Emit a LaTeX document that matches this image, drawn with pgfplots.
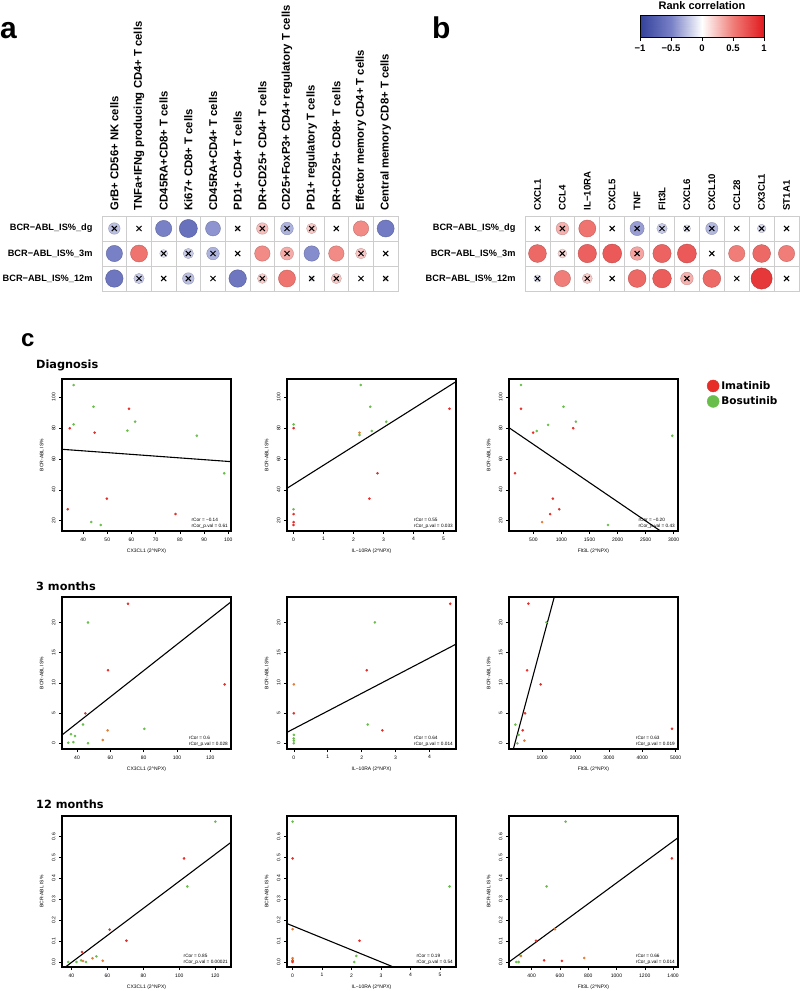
\documentclass[border=0pt]{standalone}
\usepackage{pgfplots}
\usepackage{pgfplotstable}
\pgfplotsset{compat=1.18}
\usepackage{fontspec}
\setmainfont{Liberation Sans}
\newfontfamily\dejavu{DejaVu Sans}
\definecolor{imared}{RGB}{230,45,40}
\definecolor{bosgreen}{RGB}{105,190,75}
\definecolor{oran}{RGB}{225,125,55}
\definecolor{gridgray}{RGB}{205,205,205}
\tikzset{rc/.style={anchor=south east, align=left, inner sep=0.5pt, font=\fontsize{4.7}{5.6}\selectfont}}
\pgfplotsset{
  colormap={corr}{rgb255(0pt)=(50,65,155); rgb255(1pt)=(120,128,198); rgb255(2pt)=(255,255,255); rgb255(3pt)=(240,125,120); rgb255(4pt)=(225,25,30)},
  heat/.style={
    scale only axis, height=75pt, anchor=north west,
    y dir=reverse, ymin=-0.5, ymax=2.5, ytick={0,1,2},
    minor ytick={-0.5,0.5,1.5,2.5},
    yticklabels={BCR−ABL\_IS\%\_dg,BCR−ABL\_IS\%\_3m,BCR−ABL\_IS\%\_12m},
    xticklabel pos=upper,
    major tick length=0pt, minor tick length=0pt,
    grid=minor, minor grid style={draw=gridgray, line width=0.8pt},
    axis line style={draw=gridgray, line width=0.8pt},
    xticklabel style={rotate=90, anchor=west},
    xticklabel shift=2pt,
    yticklabel style={anchor=east, font=\bfseries\fontsize{9.2}{10}\selectfont},
    yticklabel shift=6pt,
    colormap name=corr, point meta min=-1, point meta max=1,
    clip=false,
  },
  heatcirc/.style={scatter, only marks, mark=*, point meta=explicit,
    visualization depends on={\thisrow{r} \as \rr},
    scatter/@pre marker code/.append style={/tikz/mark size={11.5*sqrt(abs(\rr))}}},
  heatx/.style={only marks, mark=x, mark size=3.6pt, black, line width=1pt,
    x filter/.expression={\thisrow{ns}>0 ? x : nan}},
  sc/.style={
    scale only axis, width=169pt, height=152pt, anchor=north west,
    axis line style={line width=1.3pt},
    tick align=outside, xtick pos=left, ytick pos=left,
    major tick length=3pt,
    every tick/.style={black, line width=0.5pt},
    tick label style={font=\fontsize{5}{5}\selectfont},
    /pgf/number format/assume math mode=true,
    /pgf/number format/1000 sep={},
    scaled ticks=false,
    yticklabel style={rotate=90, anchor=south},
    xlabel style={at={(axis description cs:0.5,-0.135)}, anchor=center, font=\fontsize{5}{5}\selectfont},
    ylabel style={at={(axis description cs:-0.12,0.5)}, anchor=center, font=\fontsize{5}{5}\selectfont},
    ylabel={BCR-ABL IS\%},
    clip=true,
  },
  pts/.style={scatter, only marks, mark=*, mark size=1.1pt, scatter src=explicit symbolic,
    scatter/classes={r={imared}, g={bosgreen}, o={oran}}, forget plot},
  reg/.style={black, line width=1.1pt, forget plot},
  dec/.style={yticklabel style={/pgf/number format/fixed, /pgf/number format/fixed zerofill, /pgf/number format/precision=1}},
}

\pgfplotstableread{
c row r ns
0 0 -0.25 1
1 0 0.03 1
2 0 -0.5 0
3 0 -0.62 0
4 0 -0.42 0
5 0 0.04 1
6 0 0.25 1
7 0 -0.3 1
8 0 0.2 1
9 0 0.01 1
10 0 0.45 0
11 0 -0.55 0
0 1 -0.5 0
1 1 0.55 0
2 1 -0.12 1
3 1 -0.2 1
4 1 -0.3 1
5 1 0.01 1
6 1 0.45 0
7 1 0.32 1
8 1 -0.45 0
9 1 0.45 0
10 1 0.22 1
11 1 0.01 1
0 2 -0.58 0
1 2 -0.2 1
2 2 0.01 1
3 2 -0.25 1
4 2 0.01 1
5 2 -0.58 0
6 2 0.18 1
7 2 0.55 0
8 2 -0.05 1
9 2 0.2 1
10 2 0.01 1
11 2 0.04 1
}\heatA

\pgfplotstableread{
c row r ns
0 0 0.02 1
1 0 0.3 1
2 0 0.55 0
3 0 0.01 1
4 0 -0.38 1
5 0 -0.2 1
6 0 -0.1 1
7 0 -0.28 1
8 0 0.01 1
9 0 -0.14 1
10 0 0.01 1
0 1 0.6 0
1 1 0.15 1
2 1 0.64 0
3 1 0.68 0
4 1 0.35 1
5 1 0.63 0
6 1 0.68 0
7 1 0.01 1
8 1 0.5 0
9 1 0.6 0
10 1 0.5 0
0 2 -0.1 1
1 2 0.5 0
2 2 0.19 1
3 2 0.01 1
4 2 0.6 0
5 2 0.66 0
6 2 0.3 1
7 2 0.6 0
8 2 0.01 1
9 2 0.85 0
10 2 0.01 1
}\heatB

\pgfplotstableread{
x y c
36.1 108 g
59 92.6 r
44.3 93.9 g
61.5 84.2 g
36.1 82.5 g
34.5 80 r
44.8 77.1 r
58.3 78.4 g
87 75.1 g
98.3 50.7 g
49.8 34.3 r
33.7 27.4 r
78.2 24.3 r
43.4 19.1 g
47.3 17.2 g
}\dAa

\pgfplotstableread{
x y c
2.24 108 g
2.56 93.9 g
5.2 92.6 r
3.09 84.2 g
0 82.5 g
0 80 r
2.2 77.1 o
2.2 75.6 g
2.61 78.2 g
2.8 50.7 r
2.53 34.3 r
0 27.4 g
0 24.3 r
0 19.1 r
0 17.2 r
}\dAb

\pgfplotstableread{
x y c
280 108 g
1036 93.9 g
280 92.6 r
1257 84.2 g
762 82.1 g
1209 80 r
494 77.1 r
560 78.2 g
2973 75.1 g
172 50.7 r
846 34.3 r
959 27.4 r
798 24.3 r
655 19.1 o
1829 17.2 g
}\dAc

\pgfplotstableread{
x y c
70.6 23.1 r
46.6 20 g
58.6 12.07 r
128.6 9.75 r
45 4.96 r
43.6 3.1 g
58.4 2.15 o
80.4 2.4 g
36.4 1.5 g
38.8 1.2 g
34.8 0.1 g
37.8 0.2 g
46.6 0 g
55.4 0.55 o
}\dBa

\pgfplotstableread{
x y c
4.61 23.1 r
2.39 20 g
2.15 12.07 r
0 9.75 o
0 4.96 r
2.18 3.1 g
2.61 2.15 r
0 1.4 g
0 0.8 g
0 0.45 g
0 0 g
}\dBb

\pgfplotstableread{
x y c
590 23.1 r
1130 20 g
550 12.07 r
960 9.75 r
490 4.96 r
420 2.15 r
470 0.45 o
200 3.1 g
300 1.4 g
260 0 g
4890 2.4 r
}\dBc

\pgfplotstableread{
x y c
120 0.672 g
102.6 0.496 r
104.4 0.362 g
61.3 0.155 r
70.6 0.102 r
45.9 0.048 r
45.4 0.008 g
46.5 0.005 o
38.3 0 g
42.8 0 g
48.1 0 g
51.7 0.018 o
53.9 0.027 g
57.4 0.006 o
}\dCa

\pgfplotstableread{
x y c
0 0.672 g
0 0.496 r
5.32 0.362 g
0 0.157 o
2.27 0.102 r
2.16 0.029 g
2.09 0 g
0 0.018 o
0 0.008 r
0 0.003 o
0 0 r
}\dCb

\pgfplotstableread{
x y c
640 0.672 g
1392 0.496 r
506 0.362 g
565 0.157 o
431 0.102 r
772 0.019 o
488 0.008 r
614 0.005 r
322 0.03 g
292 0 g
308 0 g
325 0.029 o
}\dCc

\begin{document}
\begin{tikzpicture}
\useasboundingbox (0pt,0pt) rectangle (800pt,-991pt);

% panel letters and headings
\node[anchor=base west, inner sep=0pt, font=\bfseries\fontsize{30}{30}\selectfont] at (0pt,-38pt) {a};
\node[anchor=base west, inner sep=0pt, font=\bfseries\fontsize{30}{30}\selectfont] at (432pt,-38pt) {b};
\node[anchor=base west, inner sep=0pt, font=\bfseries\fontsize{24}{24}\selectfont] at (21pt,-346pt) {c};
\node[anchor=base west, inner sep=0pt, font=\dejavu\bfseries\fontsize{11.3}{11}\selectfont] at (36pt,-368pt) {Diagnosis};
\node[anchor=base west, inner sep=0pt, font=\dejavu\bfseries\fontsize{11.3}{11}\selectfont] at (36pt,-590pt) {3 months};
\node[anchor=base west, inner sep=0pt, font=\dejavu\bfseries\fontsize{11.3}{11}\selectfont] at (36pt,-808pt) {12 months};

% panel a
\begin{axis}[heat, at={(102pt,-216pt)}, width=296pt, xmin=-0.5, xmax=11.5,
  xtick={0,...,11}, minor xtick={-0.5,0.5,...,11.5},
  xticklabels={GrB+ CD56+ NK cells,TNFa+IFNg producing CD4+ T cells,CD45RA+CD8+ T cells,Ki67+ CD8+ T cells,CD45RA+CD4+ T cells,PD1+ CD4+ T cells,DR+CD25+ CD4+ T cells,CD25+FoxP3+ CD4+ regulatory T cells,PD1+ regulatory T cells,DR+CD25+ CD8+ T cells,Effector memory CD4+ T cells,Central memory CD8+ T cells},
  xticklabel style={font=\bfseries\fontsize{11.3}{12}\selectfont}]
\addplot[heatcirc] table[x=c,y=row,meta=r]{\heatA};
\addplot[heatx] table[x=c,y=row]{\heatA};
\end{axis}

% panel b
\begin{axis}[heat, at={(525pt,-216pt)}, width=274pt, xmin=-0.5, xmax=10.5,
  xtick={0,...,10}, minor xtick={-0.5,0.5,...,10.5},
  xticklabels={CXCL1,CCL4,IL−10RA,CXCL5,TNF,Flt3L,CXCL6,CXCL10,CCL28,CX3CL1,ST1A1},
  xticklabel style={font=\bfseries\fontsize{9.6}{10}\selectfont}]
\addplot[heatcirc] table[x=c,y=row,meta=r]{\heatB};
\addplot[heatx] table[x=c,y=row]{\heatB};
\end{axis}

% colour bar
\begin{axis}[at={(640pt,-15pt)}, anchor=north west, scale only axis, width=124pt, height=22pt,
  xmin=-1, xmax=1, ymin=0, ymax=1, ytick=\empty, xtick={-1,-0.5,0,0.5,1},
  xticklabels={−1,−0.5,0,0.5,1}, tick align=outside, xtick pos=left, major tick length=4pt,
  every tick/.style={black, line width=0.8pt}, axis line style={line width=0.8pt},
  xticklabel style={font=\bfseries\fontsize{9.5}{10}\selectfont},
  colormap name=corr, point meta min=-1, point meta max=1, axis on top,
  title={Rank correlation}, title style={font=\bfseries\fontsize{11}{11}\selectfont, yshift=-4pt}]
\addplot[surf, shader=interp, point meta=x, mesh/rows=2] coordinates {(-1,0) (-0.5,0) (0,0) (0.5,0) (1,0) (-1,1) (-0.5,1) (0,1) (0.5,1) (1,1)};
\end{axis}

% ---------- row 1: diagnosis
\begin{axis}[sc, at={(62pt,-379pt)}, xmin=31.3, xmax=101.1, ymin=13.3, ymax=111.9,
  xtick={40,50,...,100}, ytick={20,40,...,100}, xlabel={CX3CL1 (2\^{}NPX)}]
\addplot[pts] table[x=x,y=y,meta=c]{\dAa};
\addplot[reg] coordinates {(31.3,66.3) (101.1,58.3)};
\node[rc] at (rel axis cs:0.985,0.012) {rCor = −0.14\\rCor\_p.val = 0.61};
\end{axis}

\begin{axis}[sc, at={(287pt,-379pt)}, xmin=-0.22, xmax=5.42, ymin=13.3, ymax=111.9,
  xtick={0,...,5}, ytick={20,40,...,100}, xlabel={IL−10RA (2\^{}NPX)}]
\addplot[pts] table[x=x,y=y,meta=c]{\dAb};
\addplot[reg] coordinates {(-0.22,41) (5.42,110.2)};
\node[rc] at (rel axis cs:0.985,0.012) {rCor = 0.55\\rCor\_p.val = 0.033};
\end{axis}

\begin{axis}[sc, at={(509pt,-379pt)}, xmin=65, xmax=3077, ymin=13.3, ymax=111.9,
  xtick={500,1000,...,3000}, ytick={20,40,...,100}, xlabel={Flt3L (2\^{}NPX)},
  legend style={at={(1.17,1.0)}, anchor=north west, draw=none, fill=none, inner sep=0pt, row sep=2pt,
    font=\dejavu\bfseries\fontsize{10.5}{12}\selectfont},
  legend cell align=left]
\addplot[pts] table[x=x,y=y,meta=c]{\dAc};
\addplot[reg] coordinates {(65,80.3) (2765,13.3)};
\node[rc] at (rel axis cs:0.985,0.012) {rCor = −0.20\\rCor\_p.val = 0.43};
\addlegendimage{legend image code/.code={\fill[imared] (0pt,0pt) circle (6pt);}}
\addlegendentry{Imatinib}
\addlegendimage{legend image code/.code={\fill[bosgreen] (0pt,0pt) circle (6pt);}}
\addlegendentry{Bosutinib}
\end{axis}

% ---------- row 2: 3 months
\begin{axis}[sc, at={(62pt,-597pt)}, xmin=31, xmax=132.4, ymin=-0.94, ymax=24.2,
  xtick={40,60,...,120}, ytick={0,5,...,20}, xlabel={CX3CL1 (2\^{}NPX)}]
\addplot[pts] table[x=x,y=y,meta=c]{\dBa};
\addplot[reg] coordinates {(31,1.38) (132.4,23.4)};
\node[rc] at (rel axis cs:0.985,0.012) {rCor = 0.6\\rCor\_p.val = 0.028};
\end{axis}

\begin{axis}[sc, at={(287pt,-597pt)}, xmin=-0.2, xmax=4.78, ymin=-0.94, ymax=24.2,
  xtick={0,...,4}, ytick={0,5,...,20}, xlabel={IL−10RA (2\^{}NPX)}]
\addplot[pts] table[x=x,y=y,meta=c]{\dBb};
\addplot[reg] coordinates {(-0.2,1.82) (4.78,16.4)};
\node[rc] at (rel axis cs:0.985,0.012) {rCor = 0.64\\rCor\_p.val = 0.014};
\end{axis}

\begin{axis}[sc, at={(509pt,-597pt)}, xmin=10, xmax=5070, ymin=-0.94, ymax=24.2,
  xtick={1000,2000,...,5000}, ytick={0,5,...,20}, xlabel={Flt3L (2\^{}NPX)}]
\addplot[pts] table[x=x,y=y,meta=c]{\dBc};
\addplot[reg] coordinates {(140,-0.94) (1380,24.5)};
\node[rc] at (rel axis cs:0.985,0.012) {rCor = 0.63\\rCor\_p.val = 0.019};
\end{axis}

% ---------- row 3: 12 months
\begin{axis}[sc, dec, at={(62pt,-816pt)}, height=151pt, xmin=34.8, xmax=128.7, ymin=-0.024, ymax=0.699,
  xtick={40,60,...,120}, ytick={0,0.1,...,0.6}, xlabel={CX3CL1 (2\^{}NPX)}]
\addplot[pts] table[x=x,y=y,meta=c]{\dCa};
\addplot[reg] coordinates {(36.7,-0.024) (128.7,0.573)};
\node[rc] at (rel axis cs:0.985,0.012) {rCor = 0.85\\rCor\_p.val = 0.00021};
\end{axis}

\begin{axis}[sc, dec, at={(287pt,-816pt)}, height=151pt, xmin=-0.19, xmax=5.54, ymin=-0.024, ymax=0.699,
  xtick={0,...,5}, ytick={0,0.1,...,0.6}, xlabel={IL−10RA (2\^{}NPX)}]
\addplot[pts] table[x=x,y=y,meta=c]{\dCb};
\addplot[reg] coordinates {(-0.19,0.184) (3.42,-0.024)};
\node[rc] at (rel axis cs:0.985,0.012) {rCor = 0.19\\rCor\_p.val = 0.54};
\end{axis}

\begin{axis}[sc, dec, at={(509pt,-816pt)}, height=151pt, xmin=240, xmax=1435, ymin=-0.024, ymax=0.699,
  xtick={400,600,...,1400}, ytick={0,0.1,...,0.6}, xlabel={Flt3L (2\^{}NPX)}]
\addplot[pts] table[x=x,y=y,meta=c]{\dCc};
\addplot[reg] coordinates {(240,0) (1435,0.595)};
\node[rc] at (rel axis cs:0.985,0.012) {rCor = 0.66\\rCor\_p.val = 0.014};
\end{axis}

\end{tikzpicture}
\end{document}
